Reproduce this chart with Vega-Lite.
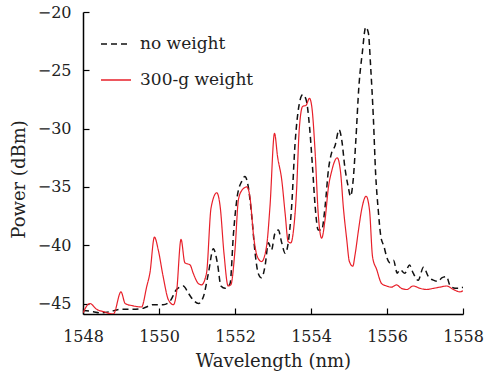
{
  "$schema": "https://vega.github.io/schema/vega-lite/v6.json",
  "width": 380,
  "height": 302,
  "autosize": "none",
  "padding": {"left": 83, "top": 12, "right": 22, "bottom": 57},
  "background": "white",
  "config": {
    "view": {"stroke": null},
    "font": "DejaVu Serif",
    "axis": {"labelFont": "DejaVu Serif", "titleFont": "DejaVu Serif"},
    "legend": {"labelFont": "DejaVu Serif", "titleFont": "DejaVu Serif"}
  },
  "datasets": {
    "red": [
      [1548.00,-45.8],[1548.18,-45.0],[1548.36,-45.5],[1548.54,-45.7],[1548.80,-45.9],[1549.00,-44.0],[1549.11,-45.0],[1549.32,-45.2],[1549.54,-45.3],[1549.68,-43.5],[1549.76,-42.4],[1549.88,-39.3],[1549.98,-40.4],[1550.11,-42.7],[1550.25,-44.7],[1550.38,-45.1],[1550.46,-44.1],[1550.58,-39.5],[1550.68,-41.5],[1550.82,-41.7],[1550.90,-42.4],[1551.04,-43.3],[1551.12,-43.4],[1551.25,-42.4],[1551.37,-36.8],[1551.52,-35.5],[1551.61,-36.7],[1551.71,-40.7],[1551.82,-43.5],[1551.89,-43.4],[1552.00,-40.4],[1552.09,-36.1],[1552.18,-35.3],[1552.31,-35.0],[1552.39,-35.8],[1552.50,-39.5],[1552.59,-41.0],[1552.70,-41.4],[1552.83,-40.1],[1552.92,-36.7],[1553.04,-30.4],[1553.12,-32.4],[1553.23,-34.4],[1553.32,-37.3],[1553.40,-39.7],[1553.47,-39.8],[1553.54,-38.7],[1553.62,-35.3],[1553.69,-30.1],[1553.78,-28.1],[1553.87,-28.0],[1553.96,-27.4],[1554.02,-28.1],[1554.11,-32.1],[1554.19,-37.3],[1554.28,-39.4],[1554.37,-37.8],[1554.46,-35.0],[1554.54,-33.7],[1554.69,-32.5],[1554.78,-33.8],[1554.85,-36.7],[1554.94,-39.5],[1555.01,-41.4],[1555.10,-41.8],[1555.16,-40.8],[1555.25,-38.7],[1555.33,-37.0],[1555.45,-35.8],[1555.54,-37.0],[1555.62,-41.0],[1555.73,-42.1],[1555.86,-43.3],[1555.99,-43.5],[1556.12,-43.6],[1556.25,-43.4],[1556.38,-43.7],[1556.52,-43.8],[1556.69,-43.5],[1556.87,-43.7],[1557.04,-43.8],[1557.22,-43.7],[1557.39,-43.6],[1557.57,-43.5],[1557.75,-43.8],[1557.92,-44.0],[1558.00,-43.9]
    ],
    "black": [
      [1548.00,-45.6],[1548.27,-45.7],[1548.45,-45.8],[1548.71,-45.7],[1548.97,-45.5],[1549.32,-45.5],[1549.59,-45.4],[1549.85,-45.1],[1550.11,-45.1],[1550.29,-44.8],[1550.46,-43.8],[1550.64,-43.5],[1550.77,-44.1],[1550.90,-44.7],[1551.04,-45.0],[1551.17,-44.4],[1551.30,-42.4],[1551.43,-40.3],[1551.54,-41.6],[1551.63,-43.5],[1551.74,-43.7],[1551.87,-43.3],[1551.96,-39.0],[1552.06,-35.8],[1552.18,-34.5],[1552.26,-34.1],[1552.35,-35.0],[1552.44,-37.5],[1552.53,-40.7],[1552.61,-42.4],[1552.70,-42.8],[1552.79,-41.8],[1552.88,-39.8],[1552.96,-40.4],[1553.05,-39.0],[1553.14,-38.7],[1553.23,-39.8],[1553.32,-40.7],[1553.40,-39.8],[1553.49,-36.7],[1553.58,-31.3],[1553.68,-28.1],[1553.78,-27.1],[1553.87,-27.5],[1553.96,-29.8],[1554.04,-33.3],[1554.11,-36.7],[1554.19,-38.7],[1554.28,-38.7],[1554.37,-36.7],[1554.46,-33.5],[1554.54,-32.1],[1554.63,-31.5],[1554.74,-30.1],[1554.81,-31.0],[1554.89,-33.3],[1554.98,-35.0],[1555.04,-35.8],[1555.11,-34.4],[1555.18,-31.0],[1555.26,-26.4],[1555.35,-23.5],[1555.44,-21.3],[1555.51,-21.8],[1555.57,-24.7],[1555.64,-29.0],[1555.70,-33.8],[1555.77,-37.0],[1555.84,-39.3],[1555.92,-40.1],[1555.99,-41.0],[1556.08,-41.5],[1556.17,-41.3],[1556.27,-42.4],[1556.34,-42.1],[1556.47,-42.4],[1556.59,-41.7],[1556.69,-42.4],[1556.82,-43.0],[1556.96,-41.9],[1557.09,-42.7],[1557.22,-43.0],[1557.35,-43.1],[1557.44,-42.8],[1557.57,-42.7],[1557.65,-43.4],[1557.79,-43.7],[1557.92,-43.7],[1558.00,-43.6]
    ]
  },
  "layer": [
    {
      "data": {"name": "black"},
      "transform": [
        {"calculate": "datum[0]", "as": "wl"},
        {"calculate": "datum[1]", "as": "p"},
        {"calculate": "'no weight'", "as": "series"}
      ],
      "mark": {"type": "line", "clip": true, "strokeWidth": 1.5, "interpolate": "monotone"},
      "encoding": {
        "x": {"field": "wl", "type": "quantitative"},
        "y": {"field": "p", "type": "quantitative"},
        "color": {"field": "series", "type": "nominal"},
        "strokeDash": {"field": "series", "type": "nominal"}
      }
    },
    {
      "data": {"name": "red"},
      "transform": [
        {"calculate": "datum[0]", "as": "wl"},
        {"calculate": "datum[1]", "as": "p"},
        {"calculate": "'300-g weight'", "as": "series"}
      ],
      "mark": {"type": "line", "clip": true, "strokeWidth": 1.2, "interpolate": "monotone"},
      "encoding": {
        "x": {
          "field": "wl", "type": "quantitative",
          "scale": {"domain": [1548, 1558], "nice": false, "zero": false},
          "axis": {
            "title": "Wavelength (nm)", "values": [1548, 1550, 1552, 1554, 1556, 1558],
            "format": "d", "grid": false, "domainColor": "black", "domainWidth": 1.5,
            "tickColor": "black", "tickSize": -6, "tickWidth": 1.2,
            "labelFlush": false, "labelOverlap": false,
            "labelFont": "DejaVu Serif", "titleFont": "DejaVu Serif",
            "labelFontSize": 16, "labelColor": "#222", "labelPadding": 33, "labelBaseline": "alphabetic",
            "titleFontSize": 18, "titleFontWeight": "normal", "titleColor": "#222",
            "titleX": 190, "titleY": 52, "titleBaseline": "alphabetic", "titleAlign": "center"
          }
        },
        "y": {
          "field": "p", "type": "quantitative",
          "scale": {"domain": [-45.9, -20], "nice": false, "zero": false},
          "axis": {
            "title": "Power (dBm)", "values": [-45, -40, -35, -30, -25, -20],
            "grid": false, "domainColor": "black", "domainWidth": 1.5,
            "tickColor": "black", "tickSize": -6, "tickWidth": 1.2,
            "labelFlush": false, "labelOverlap": false,
            "labelFont": "DejaVu Serif", "titleFont": "DejaVu Serif",
            "labelFontSize": 16, "labelColor": "#222", "labelPadding": 18,
            "titleFontSize": 18, "titleFontWeight": "normal", "titleColor": "#222",
            "titleX": -64, "titleY": 167, "titleBaseline": "middle", "titleAlign": "center"
          }
        },
        "color": {
          "field": "series", "type": "nominal",
          "scale": {"domain": ["no weight", "300-g weight"], "range": ["#111111", "#e8202a"]},
          "legend": {
            "title": null, "orient": "none", "legendX": 17, "legendY": 16,
            "symbolType": "stroke", "symbolSize": 900, "symbolStrokeWidth": 1.5,
            "labelFont": "DejaVu Serif",
            "labelFontSize": 17, "labelColor": "#222", "labelOffset": 8,
            "rowPadding": 12, "padding": 0
          }
        },
        "strokeDash": {
          "field": "series", "type": "nominal",
          "scale": {"domain": ["no weight", "300-g weight"], "range": [[6, 4], [1, 0]]}
        }
      }
    }
  ]
}
